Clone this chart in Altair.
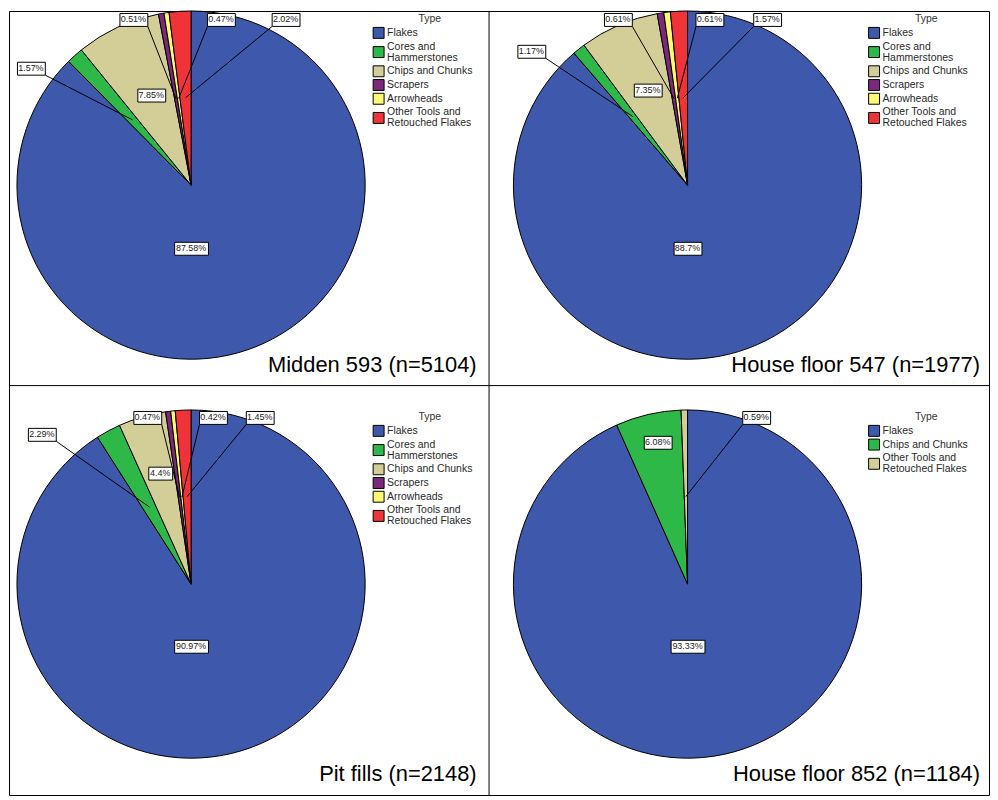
import altair as alt
import pandas as pd

FONT = "Liberation Sans, Arial, sans-serif"

# ---- data -------------------------------------------------------------
TYPES6 = ["Flakes", "Cores and Hammerstones", "Chips and Chunks",
          "Scrapers", "Arrowheads", "Other Tools and Retouched Flakes"]
COLORS6 = ["#3E58AC", "#2EB848", "#D3CE97", "#7C287D", "#FBF873", "#EF3338"]

midden_pct = [87.58, 1.57, 7.85, 0.51, 0.47, 2.02]
hf547_pct = [88.7, 1.17, 7.35, 0.61, 0.61, 1.57]
pit_pct = [90.97, 2.29, 4.4, 0.47, 0.42, 1.45]

TYPES3 = ["Flakes", "Chips and Chunks", "Other Tools and Retouched Flakes"]
COLORS3 = ["#3E58AC", "#2EB848", "#D3CE97"]
hf852_pct = [93.33, 6.08, 0.59]

TITLES = ["Midden 593 (n=5104)", "House floor 547 (n=1977)",
          "Pit fills (n=2148)", "House floor 852 (n=1184)"]

# legend label line breaks (text style only)
BREAKS = {"Cores and Hammerstones": "Cores and|Hammerstones",
          "Other Tools and Retouched Flakes": "Other Tools and|Retouched Flakes"}

# ---- layout -----------------------------------------------------------
# label box offsets from pie centre, outside = leader line drawn
midden_boxes = [(0, 63, False), (-161, -118, True), (-40, -91, False),
                (-58, -167, True), (30, -167, True), (95, -167, True)]
hf547_boxes = [(0, 63, False), (-157, -135, True), (-40, -96, False),
               (-70, -167, True), (22, -167, True), (80, -167, True)]
pit_boxes = [(0, 62, False), (-150, -151, True), (-31, -112, False),
             (-44, -168, True), (22, -168, True), (69, -168, True)]
hf852_boxes = [(0, 62, False), (-30, -143, False), (69, -168, True)]

O = 9                      # page position of the chart origin
W, H = 985, 788            # whole framed area
DIV_X, DIV_Y = 491.5, 385.5  # panel dividers (page coordinates)
RADIUS = 175
LINE_H, ENTRY_H = 11, 13.8


def P(v):
    return v - O


def panel_layers(types, pct, colors, boxes, title, center, title_pos, legend_pos):
    cx, cy = P(center[0]), P(center[1])
    scale = alt.Scale(domain=types, range=colors)
    df = pd.DataFrame({
        "type": types,
        "pct": pct,
        "idx": list(range(len(types))),
        "label": [f"{v:g}%" for v in pct],
        "dx": [b[0] for b in boxes],
        "dy": [b[1] for b in boxes],
        "outside": [b[2] for b in boxes],
    })
    base = alt.Chart(df)
    arcs = base.mark_arc(outerRadius=RADIUS, stroke="black", strokeWidth=1).encode(
        theta=alt.Theta("pct:Q", stack=True),
        order=alt.Order("idx:Q", sort="ascending"),
        color=alt.Color("type:N", scale=scale, legend=None),
        x=alt.value(cx),
        y=alt.value(cy),
    )
    geo = base.transform_window(
        cum="sum(pct)", sort=[alt.SortField("idx", order="ascending")], frame=[None, 0]
    ).transform_calculate(
        mid="(datum.cum - datum.pct / 2) / 100 * 2 * PI",
        ax=f"{cx} + 88 * sin(datum.mid)",
        ay=f"{cy} - 88 * cos(datum.mid)",
        bx=f"{cx} + datum.dx",
        by=f"{cy} + datum.dy",
        hw="(9 * (0.556 * (length(datum.label) - 2) + 1.167) + 3) / 2",
        x0="round(datum.bx - datum.hw) + 0.5",
        x1="round(datum.bx + datum.hw) + 0.5",
        y0="round(datum.by - 6.5) + 0.5",
        y1="round(datum.by + 6.5) + 0.5",
        ex="datum.bx < datum.ax ? datum.x1 : datum.x0",
        ey="datum.y1",
    )
    rules = geo.transform_filter("datum.outside").mark_rule(color="black", strokeWidth=1).encode(
        x=alt.X("ax:Q", scale=None, axis=None),
        y=alt.Y("ay:Q", scale=None, axis=None),
        x2="ex:Q",
        y2="ey:Q",
    )
    rects = geo.mark_rect(fill="white", stroke="black", strokeWidth=1).encode(
        x=alt.X("x0:Q", scale=None, axis=None),
        x2="x1:Q",
        y=alt.Y("y0:Q", scale=None, axis=None),
        y2="y1:Q",
    )
    texts = geo.mark_text(fontSize=9, font=FONT, color="#222", align="center",
                          baseline="middle").encode(
        x=alt.X("bx:Q", scale=None, axis=None),
        y=alt.Y("by:Q", scale=None, axis=None),
        text="label:N",
    )
    ttl = alt.Chart(pd.DataFrame({"t": [title]})).mark_text(
        fontSize=22, font=FONT, color="black", align="right", baseline="alphabetic"
    ).encode(text="t:N", x=alt.value(P(title_pos[0])), y=alt.value(P(title_pos[1])))

    # ---- legend (symbol column + wrapped labels) ----
    sym_left, type_cx, type_cy = P(legend_pos[0]), P(legend_pos[1]), P(legend_pos[2])
    lbl = [BREAKS.get(t, t) for t in types]
    ldf = pd.DataFrame({
        "type": types,
        "idx": list(range(len(types))),
        "lbl": lbl,
        "nl": [s.count("|") + 1 for s in lbl],
    })
    lg = alt.Chart(ldf).transform_calculate(
        step=f"(datum.nl - 1) * {LINE_H} + {ENTRY_H}"
    ).transform_window(
        cum="sum(step)", sort=[alt.SortField("idx", order="ascending")], frame=[None, 0]
    ).transform_calculate(
        yfirst=f"{type_cy} + 14 + datum.cum - datum.step",
        ysym=f"datum.yfirst + (datum.nl - 1) * {LINE_H / 2}",
        lines="split(datum.lbl, '|')",
    )
    syms = lg.mark_square(size=121, filled=True, stroke="black", strokeWidth=1,
                          opacity=1).encode(
        x=alt.value(sym_left + 5.5),
        y=alt.Y("ysym:Q", scale=None, axis=None),
        color=alt.Color("type:N", scale=scale, legend=None),
    )
    ltxt = lg.mark_text(fontSize=10.5, font=FONT, color="#2a2a2a", align="left",
                        baseline="middle", lineHeight=LINE_H).encode(
        x=alt.value(sym_left + 14),
        y=alt.Y("yfirst:Q", scale=None, axis=None),
        text="lines:N",
    )
    ltitle = alt.Chart(pd.DataFrame({"t": ["Type"]})).mark_text(
        fontSize=10.5, font=FONT, color="#333", align="center", baseline="middle"
    ).encode(text="t:N", x=alt.value(type_cx), y=alt.value(type_cy))
    return [arcs, rules, rects, texts, ttl, syms, ltxt, ltitle]


layers = []
layers += panel_layers(TYPES6, midden_pct, COLORS6, midden_boxes, TITLES[0],
                       (192, 184), (479, 372), (375, 432, 17))
layers += panel_layers(TYPES6, hf547_pct, COLORS6, hf547_boxes, TITLES[1],
                       (691, 184), (985, 372), (873, 931, 17))
layers += panel_layers(TYPES6, pit_pct, COLORS6, pit_boxes, TITLES[2],
                       (192, 585), (479, 783), (375, 432, 417))
layers += panel_layers(TYPES3, hf852_pct, COLORS3, hf852_boxes, TITLES[3],
                       (691, 585), (985, 783), (873, 931, 417))

frame_df = pd.DataFrame({"k": ["divider"]})
vdiv = alt.Chart(frame_df).mark_rule(color="black", strokeWidth=1).encode(
    x=alt.value(P(DIV_X)), y=alt.value(0), y2=alt.value(H))
hdiv = alt.Chart(frame_df).mark_rule(color="black", strokeWidth=1).encode(
    y=alt.value(P(DIV_Y)), x=alt.value(0), x2=alt.value(W))

chart = alt.layer(vdiv, hdiv, *layers).resolve_scale(
    color="independent", theta="independent"
).properties(
    width=W, height=H,
    padding={"left": 1, "top": 1, "right": 1, "bottom": 1},
    autosize=alt.AutoSizeParams(type="none"),
    background="white",
).configure_view(stroke="black", strokeWidth=1)

chart.save("out.html", embed_options={"renderer": "svg", "actions": False})
